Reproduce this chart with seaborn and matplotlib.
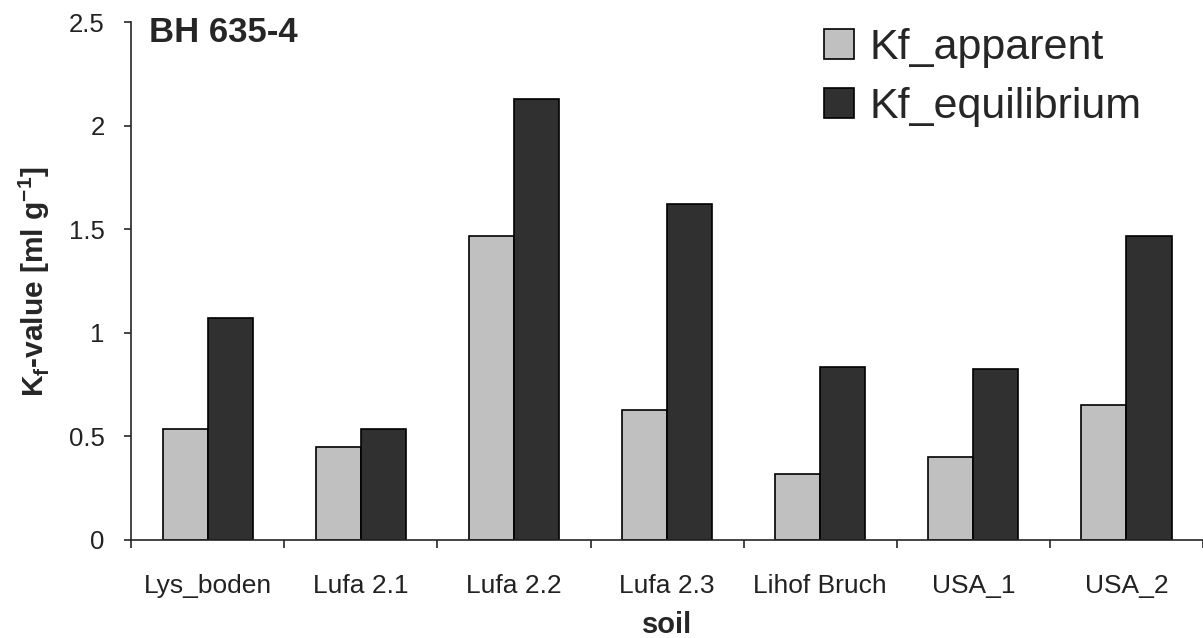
import numpy as np
import pandas as pd
import seaborn as sns
import matplotlib.pyplot as plt

# values
soils = ["Lys_boden", "Lufa 2.1", "Lufa 2.2", "Lufa 2.3", "Lihof Bruch", "USA_1", "USA_2"]
kf_apparent = [0.535, 0.447, 1.47, 0.625, 0.32, 0.40, 0.65]
kf_equilibrium = [1.07, 0.536, 2.13, 1.62, 0.835, 0.825, 1.47]
series = ["Kf_apparent", "Kf_equilibrium"]
colors = ["#c0c0c0", "#303030"]

df = pd.DataFrame({
    "soil": soils * 2,
    "kf": kf_apparent + kf_equilibrium,
    "series": [series[0]] * len(soils) + [series[1]] * len(soils),
})

sns.set_style("ticks")
plt.rcParams["font.family"] = ["Liberation Sans", "DejaVu Sans"]
plt.rcParams["mathtext.fontset"] = "custom"
plt.rcParams["mathtext.rm"] = "Liberation Sans"
plt.rcParams["mathtext.bf"] = "Liberation Sans:bold"

fig = plt.figure(figsize=(12.03, 6.38), dpi=100)
ax = fig.add_axes([0.109, 0.154, 0.891, 0.811])

sns.barplot(data=df, x="soil", y="kf", hue="series", palette=colors,
            width=0.59, edgecolor="black", linewidth=1.2, ax=ax,
            legend=False, saturation=1)

ax.set_ylim(0, 2.5)
ax.set_xlim(-0.5, len(soils) - 0.5)
ax.set_yticks(np.arange(0, 2.51, 0.5))
ax.set_yticklabels(["0", "0.5", "1", "1.5", "2", "2.5"], fontsize=18.5, color="#222222")
ax.set_xticks(np.arange(-0.5, len(soils), 1.0))
ax.set_xticklabels([])
ax.set_xticks(range(len(soils)), minor=True)
ax.set_xticklabels(soils, minor=True, fontsize=19, color="#222222")
ax.tick_params(axis="x", which="minor", length=0, pad=25)
ax.tick_params(axis="x", which="major", length=6, width=1.2, direction="out")
ax.tick_params(axis="y", length=5, width=1.2, direction="out", pad=14)
for s in ["top", "right"]:
    ax.spines[s].set_visible(False)
for s in ["left", "bottom"]:
    ax.spines[s].set_linewidth(1.2)

ax.set_xlabel("soil", fontsize=21, fontweight="bold", labelpad=9)
ax.set_ylabel(r"K$_\mathbf{f}$-value [ml g$^{\mathbf{-1}}$]", fontsize=21.5,
              fontweight="bold", labelpad=12)

ax.text(0.017, 1.012, "BH 635-4", transform=ax.transAxes, fontsize=25,
        fontweight="bold", va="top", ha="left")

handles = [plt.Rectangle((0, 0), 1, 1, facecolor=c, edgecolor="black", linewidth=1.2)
           for c in colors]
fig.legend(handles, series, loc="upper left", bbox_to_anchor=(0.667, 0.99),
           frameon=False, fontsize=31, handlelength=0.7, handleheight=0.7,
           handletextpad=0.35, labelspacing=0.45, borderpad=0)

fig.savefig("out.png", dpi=100)
